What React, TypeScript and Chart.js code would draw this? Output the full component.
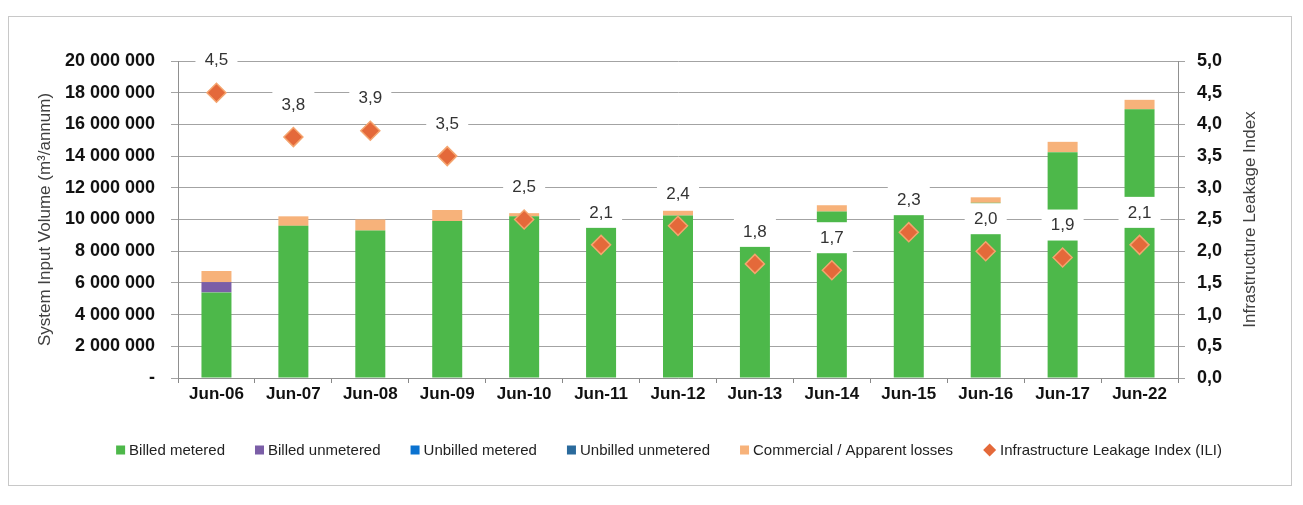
import React, { useEffect, useRef } from "react";
import { Chart, registerables } from "chart.js";

Chart.register(...registerables);

const categories = ["Jun-06", "Jun-07", "Jun-08", "Jun-09", "Jun-10", "Jun-11", "Jun-12", "Jun-13", "Jun-14", "Jun-15", "Jun-16", "Jun-17", "Jun-22"];
const billedMetered = [5400000, 9600000, 9300000, 9900000, 10200000, 9600000, 10250000, 9300000, 10500000, 10300000, 11050000, 14250000, 16950000];
const billedUnmetered = [650000, 0, 0, 0, 0, 0, 0, 0, 0, 0, 0, 0, 0];
const unbilledMetered = [0, 0, 0, 0, 0, 0, 0, 0, 0, 0, 0, 0, 0];
const unbilledUnmetered = [0, 0, 0, 0, 0, 0, 0, 0, 0, 0, 0, 0, 0];
const apparentLosses = [700000, 600000, 700000, 700000, 200000, 200000, 300000, 400000, 400000, 300000, 350000, 650000, 600000];
const ili = [4.5, 3.8, 3.9, 3.5, 2.5, 2.1, 2.4, 1.8, 1.7, 2.3, 2.0, 1.9, 2.1];

const seriesNames = ["Billed metered", "Billed unmetered", "Unbilled metered", "Unbilled unmetered", "Commercial / Apparent losses", "Infrastructure Leakage Index (ILI)"];
const seriesColors = ["#4db84a", "#7b5ea7", "#0b72d0", "#2a6a9c", "#f7b27a", "#e4693a"];
const volumeTicks = [0, 2000000, 4000000, 6000000, 8000000, 10000000, 12000000, 14000000, 16000000, 18000000, 20000000];
const iliTicks = [0, 0.5, 1, 1.5, 2, 2.5, 3, 3.5, 4, 4.5, 5];
const leftTitle = "System Input Volume (m³/annum)";
const rightTitle = "Infrastructure Leakage Index";

const FONT = '"Liberation Sans", Arial, Helvetica, sans-serif';

const fmtVolume = (v: number) => (v === 0 ? "-" : Math.round(v).toString().replace(/\B(?=(\d{3})+(?!\d))/g, " "));
const fmtIli = (v: number) => v.toFixed(1).replace(".", ",");

const decorPlugin = {
  id: "decor",
  beforeDraw(chart: any) {
    const ctx = chart.ctx;
    ctx.save();
    ctx.fillStyle = "#ffffff";
    ctx.fillRect(0, 0, chart.width, chart.height);
    ctx.strokeStyle = "#c8c8c8";
    ctx.lineWidth = 1;
    ctx.strokeRect(8.5, 16.5, 1283, 469);
    ctx.restore();
  },
  afterDatasetsDraw(chart: any) {
    const ctx = chart.ctx;
    const meta = chart.getDatasetMeta(5);
    ctx.save();
    ctx.font = `17px ${FONT}`;
    ctx.textAlign = "center";
    ctx.textBaseline = "middle";
    meta.data.forEach((pt: any, i: number) => {
      const x = pt.x;
      const y = pt.y - 32;
      ctx.fillStyle = "#ffffff";
      ctx.fillRect(x - 21, y - 16, 42, 31);
      ctx.fillStyle = "#333333";
      ctx.fillText(fmtIli(ili[i]), x, y);
    });
    ctx.restore();
  },
  afterDraw(chart: any) {
    const ctx = chart.ctx;
    const area = chart.chartArea;
    const cy = (area.top + area.bottom) / 2;
    ctx.save();
    ctx.font = `17px ${FONT}`;
    ctx.fillStyle = "#404040";
    ctx.textAlign = "center";
    ctx.textBaseline = "middle";
    ctx.save();
    ctx.translate(45, cy);
    ctx.rotate(-Math.PI / 2);
    ctx.fillText(leftTitle, 0, 0);
    ctx.restore();
    ctx.save();
    ctx.translate(1250, cy);
    ctx.rotate(-Math.PI / 2);
    ctx.fillText(rightTitle, 0, 0);
    ctx.restore();

    // legend
    ctx.font = `15px ${FONT}`;
    ctx.textAlign = "left";
    const gapBT = 4;
    const gapItem = 30;
    const boxW = seriesNames.map((_, i) => (i === 5 ? 13 : 9));
    const widths = seriesNames.map((n, i) => boxW[i] + gapBT + ctx.measureText(n).width);
    const total = widths.reduce((a, b) => a + b, 0) + gapItem * (widths.length - 1);
    let x = 669 - total / 2;
    const y = 450;
    seriesNames.forEach((name, i) => {
      ctx.fillStyle = seriesColors[i];
      if (i === 5) {
        ctx.beginPath();
        ctx.moveTo(x + 6.5, y - 6.5);
        ctx.lineTo(x + 13, y);
        ctx.lineTo(x + 6.5, y + 6.5);
        ctx.lineTo(x, y);
        ctx.closePath();
        ctx.fill();
      } else {
        ctx.fillRect(x, y - 4.5, 9, 9);
      }
      ctx.fillStyle = "#222222";
      ctx.fillText(name, x + boxW[i] + gapBT, y + 1);
      x += widths[i] + gapItem;
    });
    ctx.restore();
  },
};

export default function App() {
  const ref = useRef<HTMLCanvasElement | null>(null);

  useEffect(() => {
    document.body.style.margin = "0";
    if (!ref.current) return;
    const barCommon = {
      type: "bar" as const,
      yAxisID: "y",
      stack: "sv",
      barPercentage: 0.39,
      categoryPercentage: 1.0,
      order: 1,
      borderWidth: 0,
    };
    const tickFont = { family: FONT, size: 18, weight: "bold" as const };
    const chart = new Chart(ref.current, {
      type: "bar",
      data: {
        labels: categories,
        datasets: [
          { ...barCommon, label: seriesNames[0], data: billedMetered, backgroundColor: seriesColors[0] },
          { ...barCommon, label: seriesNames[1], data: billedUnmetered, backgroundColor: seriesColors[1] },
          { ...barCommon, label: seriesNames[2], data: unbilledMetered, backgroundColor: seriesColors[2] },
          { ...barCommon, label: seriesNames[3], data: unbilledUnmetered, backgroundColor: seriesColors[3] },
          { ...barCommon, label: seriesNames[4], data: apparentLosses, backgroundColor: seriesColors[4] },
          {
            type: "line" as const,
            label: seriesNames[5],
            data: ili,
            yAxisID: "y1",
            showLine: false,
            pointStyle: "rectRot",
            pointRadius: 9.5,
            pointBackgroundColor: seriesColors[5],
            pointBorderColor: "#f4a46e",
            pointBorderWidth: 1.5,
            backgroundColor: seriesColors[5],
            borderColor: "#f4a46e",
            order: 0,
          } as any,
        ],
      },
      options: {
        responsive: false,
        animation: false,
        devicePixelRatio: 1,
        layout: { padding: { top: 61, left: 0, right: 0, bottom: 0 } },
        plugins: {
          legend: { display: false },
          tooltip: { enabled: false },
        },
        scales: {
          x: {
            stacked: true,
            grid: { drawOnChartArea: false, drawTicks: true, tickLength: 5, color: "#888888", offset: true },
            border: { color: "#909090" },
            ticks: { color: "#111111", font: { family: FONT, size: 17, weight: "bold" }, padding: 1, maxRotation: 0, autoSkip: false },
            afterFit: (s: any) => {
              s.height = 127;
            },
          },
          y: {
            stacked: true,
            position: "left",
            min: 0,
            max: 20000000,
            afterBuildTicks: (s: any) => {
              s.ticks = volumeTicks.map((v) => ({ value: v }));
            },
            ticks: {
              color: "#111111",
              font: tickFont,
              padding: 16,
              callback: (v: any) => fmtVolume(Number(v)),
            },
            grid: { color: "#a3a3a3", tickLength: 7, lineWidth: 1 },
            border: { color: "#909090" },
            afterFit: (s: any) => {
              s.width = 178;
            },
          },
          y1: {
            position: "right",
            min: 0,
            max: 5,
            afterBuildTicks: (s: any) => {
              s.ticks = iliTicks.map((v) => ({ value: v }));
            },
            ticks: {
              color: "#111111",
              font: tickFont,
              padding: 12,
              callback: (v: any) => fmtIli(Number(v)),
            },
            grid: { drawOnChartArea: false, tickLength: 7, color: "#a3a3a3" },
            border: { color: "#909090" },
            afterFit: (s: any) => {
              s.width = 125;
            },
          },
        },
      },
      plugins: [decorPlugin],
    });
    return () => chart.destroy();
  }, []);

  return (
    <div style={{ width: 1303, height: 505 }}>
      <canvas ref={ref} width={1303} height={505} style={{ display: "block" }} />
    </div>
  );
}
